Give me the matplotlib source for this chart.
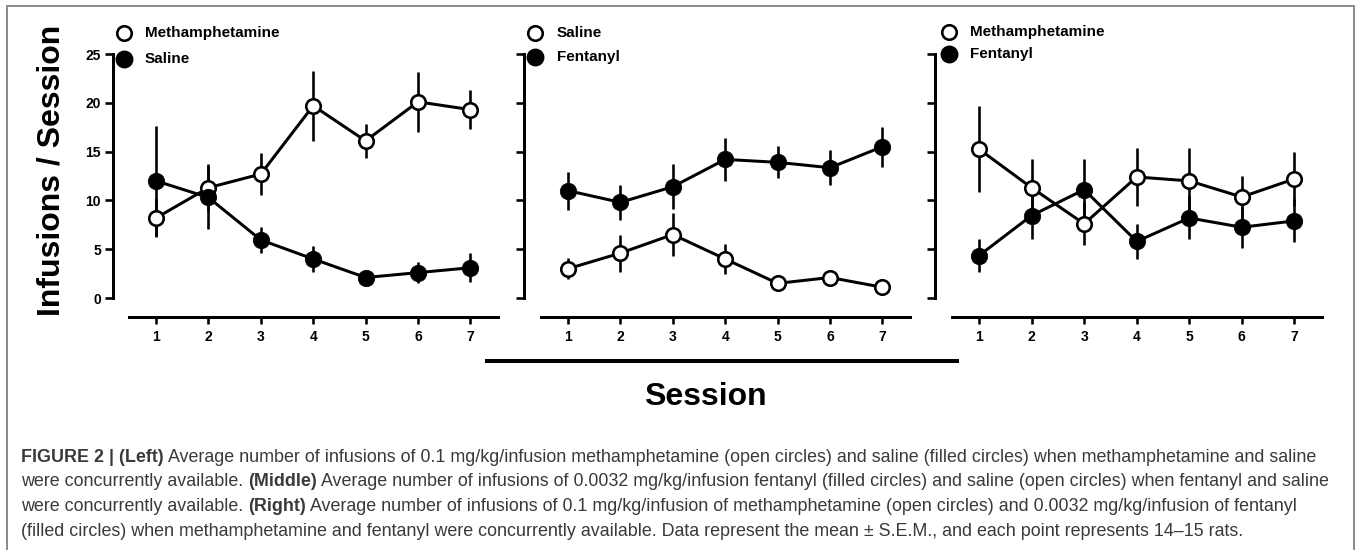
import matplotlib
matplotlib.use("Agg")
import matplotlib.pyplot as plt
from matplotlib.lines import Line2D
from matplotlib.patches import Rectangle
from matplotlib import font_manager

# ---------------- data ----------------
sessions = [1, 2, 3, 4, 5, 6, 7]
yticks = [0, 5, 10, 15, 20, 25]

left_meth = [8.2, 11.3, 12.7, 19.7, 16.1, 20.1, 19.3]
left_meth_sem = [2.0, 2.4, 2.15, 3.6, 1.75, 3.1, 2.0]
left_sal = [12.0, 10.3, 5.95, 4.0, 2.1, 2.6, 3.1]
left_sal_sem = [5.6, 3.2, 1.3, 1.3, 0.4, 1.05, 1.5]

mid_sal = [3.0, 4.6, 6.5, 4.0, 1.5, 2.1, 1.1]
mid_sal_sem = [1.1, 1.9, 2.2, 1.5, 0.4, 0.8, 0.3]
mid_fen = [11.0, 9.8, 11.4, 14.2, 13.9, 13.35, 15.5]
mid_fen_sem = [1.95, 1.8, 2.3, 2.2, 1.65, 1.8, 2.05]

right_meth = [15.25, 11.3, 7.6, 12.4, 12.0, 10.35, 12.2]
right_meth_sem = [4.4, 2.9, 2.2, 3.0, 3.4, 2.15, 2.8]
right_fen = [4.35, 8.45, 11.1, 5.8, 8.2, 7.25, 7.9]
right_fen_sem = [1.7, 2.4, 3.1, 1.8, 2.2, 2.1, 2.2]

# (open-circle label, filled-circle label) per panel
panel_labels = [("Methamphetamine", "Saline"),
                ("Saline", "Fentanyl"),
                ("Methamphetamine", "Fentanyl")]

ylabel = "Infusions / Session"
xlabel = "Session"

caption_lines = [
    [("FIGURE 2 | (Left)", "bold"),
     (" Average number of infusions of 0.1 mg/kg/infusion methamphetamine (open circles) and saline (filled circles) when methamphetamine and saline", "normal")],
    [("were concurrently available. ", "normal"), ("(Middle)", "bold"),
     (" Average number of infusions of 0.0032 mg/kg/infusion fentanyl (filled circles) and saline (open circles) when fentanyl and saline", "normal")],
    [("were concurrently available. ", "normal"), ("(Right)", "bold"),
     (" Average number of infusions of 0.1 mg/kg/infusion of methamphetamine (open circles) and 0.0032 mg/kg/infusion of fentanyl", "normal")],
    [("(filled circles) when methamphetamine and fentanyl were concurrently available. Data represent the mean \u00b1 S.E.M., and each point represents 14\u201315 rats.", "normal")],
]

# ---------------- style ----------------
available = {f.name for f in font_manager.fontManager.ttflist}
FONT = "Liberation Sans" if "Liberation Sans" in available else "DejaVu Sans"
plt.rcParams["font.family"] = [FONT, "DejaVu Sans"]

W, H = 1357, 550
DPI = 100
fig = plt.figure(figsize=(W / DPI, H / DPI), dpi=DPI)
fig.patch.set_facecolor("white")

def fx(px):
    return px / W

def fy(py):
    return 1 - py / H

PT = 72.0 / DPI  # points per pixel

boxes = [(129, 498), (541, 910), (952, 1322)]
spine_off = [16, 17, 17]
ytop, ybot = 54, 298
XLIM = (0.485, 7.527)

# (open series, open sem, filled series, filled sem)
panels = [
    (left_meth, left_meth_sem, left_sal, left_sal_sem),
    (mid_sal, mid_sal_sem, mid_fen, mid_fen_sem),
    (right_meth, right_meth_sem, right_fen, right_fen_sem),
]

legend_pos = [  # (marker x px, text x px, row1 y px, row2 y px)
    (124, 145, 33, 59),
    (535, 557, 33, 57),
    (949, 970, 32, 54),
]

LW = 3.0 * PT
EW = 2.6 * PT
MS_OPEN = 14.5 * PT
MS_FILL = 16.5 * PT
MEW = 2.6 * PT

for i, (x0, x1) in enumerate(boxes):
    ax = fig.add_axes([fx(x0), fy(ybot), fx(x1) - fx(x0), (ybot - ytop) / H])
    ax.set_xlim(*XLIM)
    ax.set_ylim(0, 25)
    ax.patch.set_alpha(0)
    for s in ("top", "right"):
        ax.spines[s].set_visible(False)
    ax.spines["left"].set_position(("outward", spine_off[i] * PT))
    ax.spines["bottom"].set_position(("outward", 19 * PT))
    for s in ("left", "bottom"):
        ax.spines[s].set_linewidth(3.0 * PT)
        ax.spines[s].set_capstyle("projecting")
    ax.set_yticks(yticks)
    ax.set_xticks(sessions)
    ax.tick_params(axis="y", direction="out", length=8 * PT, width=2.6 * PT,
                   labelsize=10, pad=3)
    ax.tick_params(axis="x", direction="out", length=7 * PT, width=2.6 * PT,
                   labelsize=10, pad=4)
    for lab in ax.get_xticklabels() + ax.get_yticklabels():
        lab.set_fontweight("bold")
    if i > 0:
        ax.set_yticklabels([])

    open_y, open_e, fill_y, fill_e = panels[i]

    for yv, ev in ((open_y, open_e), (fill_y, fill_e)):
        ax.errorbar(sessions, yv, yerr=ev, fmt="none", ecolor="black",
                    elinewidth=EW, capsize=0, zorder=2, clip_on=False)
        ax.plot(sessions, yv, color="black", lw=LW, zorder=2,
                solid_joinstyle="miter", clip_on=False)
    ax.plot(sessions, open_y, linestyle="none", marker="o", markersize=MS_OPEN,
            markerfacecolor="white", markeredgecolor="black",
            markeredgewidth=MEW, zorder=4, clip_on=False)
    ax.plot(sessions, fill_y, linestyle="none", marker="o", markersize=MS_FILL,
            markerfacecolor="black", markeredgecolor="black",
            markeredgewidth=0.5, zorder=5, clip_on=False)

    # legend (manual, Prism style)
    mx, tx, r1, r2 = legend_pos[i]
    lab_open, lab_fill = panel_labels[i]
    fig.add_artist(Line2D([fx(mx)], [fy(r1)], marker="o", linestyle="none",
                          markersize=MS_OPEN, markerfacecolor="white",
                          markeredgecolor="black", markeredgewidth=MEW))
    fig.add_artist(Line2D([fx(mx)], [fy(r2)], marker="o", linestyle="none",
                          markersize=MS_FILL, markerfacecolor="black",
                          markeredgecolor="black", zorder=6))
    fig.text(fx(tx), fy(r1), lab_open, fontsize=11, fontweight="bold",
             va="center", ha="left")
    fig.text(fx(tx), fy(r2), lab_fill, fontsize=11, fontweight="bold",
             va="center", ha="left")

# y label and x label
fig.text(fx(52), fy(170), ylabel, rotation=90, fontsize=23, fontweight="bold",
         ha="center", va="center")
fig.add_artist(Line2D([fx(485), fx(959)], [fy(361), fy(361)], color="black",
                      lw=4 * PT, solid_capstyle="butt"))
fig.text(fx(705), fy(397), xlabel, fontsize=23, fontweight="bold",
         ha="center", va="center")

# frame
fig.add_artist(Rectangle((fx(7), fy(600)), fx(1354) - fx(7), fy(6) - fy(600),
                         fill=False, edgecolor="#8c8c8c", lw=2 * PT,
                         transform=fig.transFigure))

# caption
renderer = fig.canvas.get_renderer()
CAP_COLOR = "#3a3a3a"
X0 = 21
targets = [1318, 1317]
cap_size = 12.0

def draw_line(parts, x_px, base_px, size):
    texts = []
    prev = None
    for txt, wt in parts:
        t = fig.text(fx(x_px), fy(base_px), txt, fontsize=size, fontweight=wt,
                     color=CAP_COLOR, ha="left", va="baseline")
        if prev is not None:
            bb = prev.get_window_extent(renderer)
            t.set_position((bb.x1 / W, fy(base_px)))
        texts.append(t)
        prev = t
    return texts

# fit font size to the widths of the first two lines
ratios = []
for parts, tgt in zip(caption_lines[:2], targets):
    probe = draw_line(parts, X0, 462, cap_size)
    w = probe[-1].get_window_extent(renderer).x1 - probe[0].get_window_extent(renderer).x0
    ratios.append((tgt - X0) / w)
    for t in probe:
        t.remove()
cap_size = cap_size * sum(ratios) / len(ratios)

baselines = [462, 486.5, 511, 535.5]
for parts, bl in zip(caption_lines, baselines):
    draw_line(parts, X0, bl, cap_size)

fig.savefig("out.png", dpi=DPI, facecolor="white")
